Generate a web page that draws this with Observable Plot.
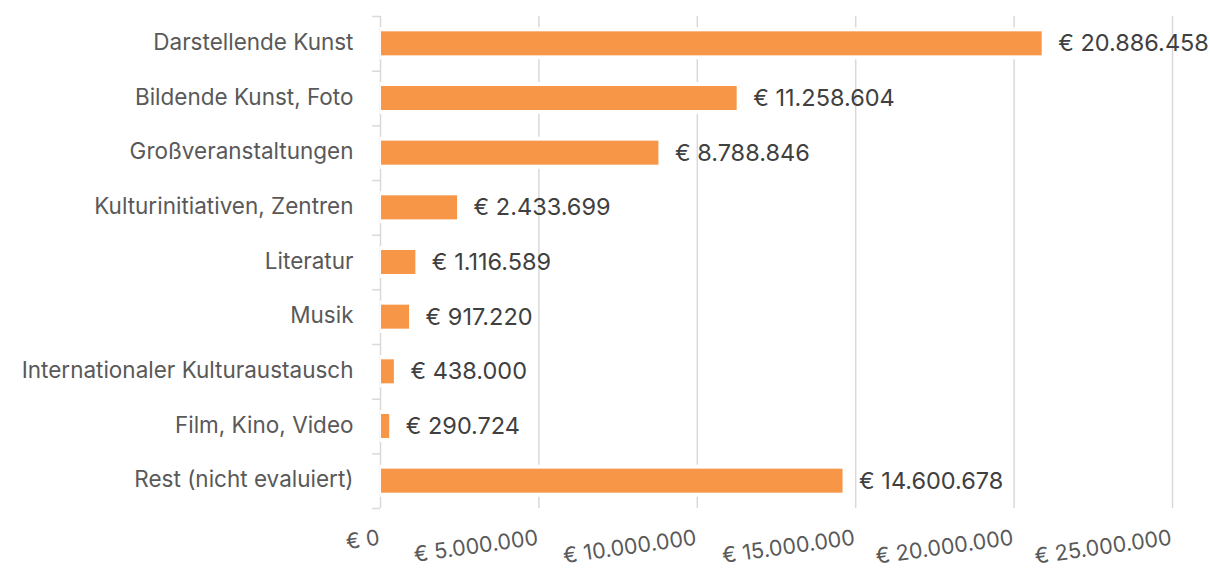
<!DOCTYPE html>
<html>
<head>
<meta charset="utf-8">
<script src="https://cdn.jsdelivr.net/npm/d3@7"></script>
<script src="https://cdn.jsdelivr.net/npm/@observablehq/plot@0.6"></script>
<style>
  html, body { margin: 0; padding: 0; background: #fff; }
  #chart svg { display: block; }
</style>
</head>
<body>
<div id="chart"></div>
<script>
const categories = [
  "Darstellende Kunst",
  "Bildende Kunst, Foto",
  "Großveranstaltungen",
  "Kulturinitiativen, Zentren",
  "Literatur",
  "Musik",
  "Internationaler Kulturaustausch",
  "Film, Kino, Video",
  "Rest (nicht evaluiert)"
];
const values = [20886458, 11258604, 8788846, 2433699, 1116589, 917220, 438000, 290724, 14600678];
const xTicks = [0, 5000000, 10000000, 15000000, 20000000, 25000000];

const data = categories.map((c, i) => ({category: c, value: values[i]}));

const locale = d3.formatLocale({decimal: ",", thousands: ".", grouping: [3], currency: ["€ ", ""]});
const fmt = locale.format("$,.0f");

const W = 1210, H = 570, mt = 16, mb = 62, ml = 380, mr = 38;
const step = (H - mt - mb) / categories.length;
const barH = 24;
const inset = (step - barH) / 2;

const font = "Inter, 'Open Sans', sans-serif";

const chart = Plot.plot({
  width: W,
  height: H,
  marginTop: mt,
  marginBottom: mb,
  marginLeft: ml,
  marginRight: mr,
  style: {fontFamily: font, background: "#fff"},
  x: {domain: [0, 25000000], axis: null},
  y: {domain: categories, padding: 0, round: false, axis: null},
  marks: [
    Plot.gridX(xTicks, {stroke: "#d9d9d9", strokeOpacity: 1, strokeWidth: 1.5}),
    // boundary ticks on the category axis
    Plot.ruleY(categories, {y: d => d, x1: -250000, x2: 0, dy: -step / 2, stroke: "#d9d9d9", strokeWidth: 1.5}),
    Plot.ruleY(categories.slice(-1), {y: d => d, x1: -250000, x2: 0, dy: step / 2, stroke: "#d9d9d9", strokeWidth: 1.5}),
    // white halo behind bars
    Plot.barX(data, {y: "category", x: "value", fill: "#fff", insetTop: inset - 4, insetBottom: inset - 4, insetRight: -4}),
    Plot.barX(data, {y: "category", x: "value", fill: "#F79646", insetTop: inset, insetBottom: inset, insetLeft: 1}),
    // category labels
    Plot.text(data, {y: "category", x: 0, text: "category", textAnchor: "end", dx: -27, dy: -1, fontSize: 22.5, letterSpacing: "-0.1px", fill: "#595959"}),
    // value labels
    Plot.text(data, {y: "category", x: "value", text: d => fmt(d.value), textAnchor: "start", dx: 16, fontSize: 23.5, letterSpacing: "-0.2px", fill: "#404040"}),
    // x tick labels, rotated
    Plot.text(xTicks, {x: d => d, text: d => fmt(d), frameAnchor: "bottom", textAnchor: "end", rotate: -8, dy: 36, dx: 0, fontSize: 21.5, letterSpacing: "-0.2px", fill: "#595959"})
  ]
});

document.getElementById("chart").appendChild(chart);
</script>
</body>
</html>
